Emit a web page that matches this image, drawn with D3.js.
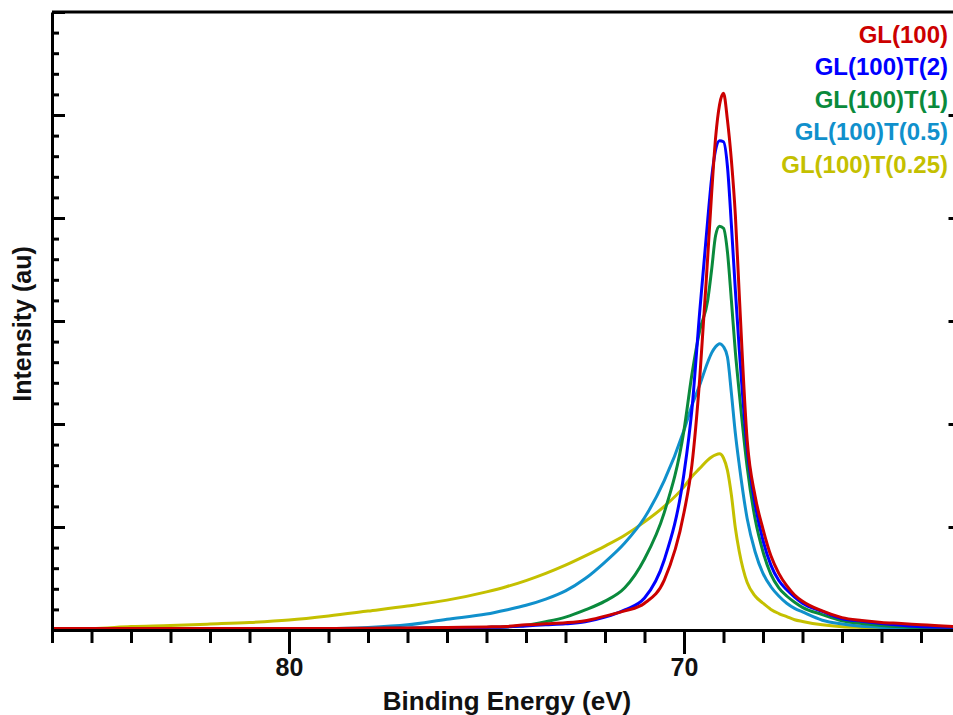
<!DOCTYPE html>
<html lang="en">
  <head>
    <meta charset="utf-8" />
    <title>Binding Energy</title>
    <script src="https://cdn.jsdelivr.net/npm/d3@7"></script>
    <style>
      body { margin: 0; background: #fff; }
      text { font-family: "Liberation Sans", Arial, sans-serif; }
    </style>
  </head>
  <body>
    <div id="plot"></div>
    <script type="text/javascript">
      // binding energy (eV), shared by all five spectra
      const energy = [86, 85, 84, 83, 82, 81, 80, 79, 78, 77, 76, 75,
        74.5, 74, 73.5, 73, 72.5, 72, 71.5, 71, 70.5, 70,
        69.8, 69.6, 69.4, 69.3, 69.2, 69.1, 69.0, 68.9, 68.8, 68.7, 68.6,
        68.4, 68.2, 68.0, 67.8, 67.6, 67.4, 67.2, 67.0,
        66.5, 66, 65.5, 65, 64.5, 64, 63];

      const gl100 = [0.015, 0.015, 0.015, 0.015, 0.015, 0.015, 0.015, 0.015, 0.018, 0.02, 0.025, 0.03,
        0.035, 0.05, 0.06, 0.07, 0.09, 0.135, 0.185, 0.26, 0.485, 1.14,
        1.6, 2.45, 3.62, 4.24, 4.78, 5.1, 5.21, 4.95, 4.56, 4.03, 3.25,
        1.84, 1.3, 0.98, 0.72, 0.55, 0.43, 0.34, 0.28,
        0.185, 0.12, 0.092, 0.073, 0.063, 0.05, 0.03];

      const gl100T2 = [0.015, 0.015, 0.015, 0.015, 0.015, 0.015, 0.015, 0.015, 0.015, 0.018, 0.02, 0.025,
        0.03, 0.04, 0.05, 0.06, 0.08, 0.125, 0.195, 0.31, 0.68, 1.52,
        2.14, 3.1, 3.98, 4.39, 4.66, 4.75, 4.74, 4.5, 3.93, 3.3, 2.72,
        1.76, 1.22, 0.87, 0.63, 0.48, 0.39, 0.32, 0.26,
        0.18, 0.11, 0.085, 0.063, 0.045, 0.032, 0.025];

      const gl100T1 = [0.015, 0.015, 0.015, 0.015, 0.015, 0.015, 0.015, 0.015, 0.015, 0.018, 0.02, 0.025,
        0.03, 0.045, 0.08, 0.125, 0.195, 0.28, 0.41, 0.69, 1.14, 1.94,
        2.48, 2.91, 3.2, 3.5, 3.83, 3.92, 3.9, 3.67, 3.2, 2.7, 2.3,
        1.58, 1.08, 0.76, 0.54, 0.41, 0.33, 0.27, 0.22,
        0.15, 0.09, 0.063, 0.044, 0.032, 0.025, 0.02];

      const gl100T05 = [0.015, 0.015, 0.015, 0.015, 0.015, 0.015, 0.015, 0.015, 0.025, 0.05, 0.105, 0.155,
        0.195, 0.24, 0.3, 0.38, 0.5, 0.66, 0.845, 1.09, 1.45, 1.94,
        2.18, 2.38, 2.6, 2.69, 2.75, 2.78, 2.75, 2.65, 2.3, 1.91, 1.6,
        1.08, 0.76, 0.55, 0.42, 0.33, 0.26, 0.21, 0.175,
        0.095, 0.058, 0.036, 0.025, 0.02, 0.018, 0.015];

      const gl100T025 = [0.012, 0.015, 0.034, 0.044, 0.058, 0.073, 0.097, 0.136, 0.184, 0.233, 0.29, 0.37,
        0.42, 0.48, 0.55, 0.63, 0.72, 0.815, 0.92, 1.05, 1.2, 1.39,
        1.49, 1.57, 1.65, 1.68, 1.7, 1.71, 1.67, 1.55, 1.31, 0.99, 0.76,
        0.46, 0.33, 0.26, 0.2, 0.16, 0.13, 0.1, 0.083,
        0.05, 0.032, 0.025, 0.02, 0.018, 0.016, 0.015];

      const seriesNames = ["GL(100)", "GL(100)T(2)", "GL(100)T(1)", "GL(100)T(0.5)", "GL(100)T(0.25)"];
      const seriesValues = [gl100, gl100T2, gl100T1, gl100T05, gl100T025];
      const seriesColors = ["#cc0000", "#0000ff", "#0a8a3c", "#1090cc", "#c4c000"];

      const majorEnergyTicks = [80, 70];

      const width = 953;
      const height = 715;
      const plotLeft = 52, plotTop = 12, plotBottom = 630, plotRight = 960.5;

      const svg = d3.select("#plot").append("svg")
        .attr("width", width)
        .attr("height", height);

      svg.append("rect").attr("width", width).attr("height", height).attr("fill", "#fff");

      const x = d3.scaleLinear().domain([86, 63]).range([plotLeft, plotRight]);
      const y = d3.scaleLinear().domain([0, 6]).range([plotBottom, plotTop]);

      svg.append("clipPath").attr("id", "clip")
        .append("rect")
        .attr("x", plotLeft).attr("y", plotTop)
        .attr("width", plotRight - plotLeft).attr("height", plotBottom - plotTop);

      const line = d3.line()
        .x(d => x(d[0]))
        .y(d => y(d[1]))
        .curve(d3.curveMonotoneX);

      // draw yellow first so red ends up on top
      const order = [4, 3, 2, 1, 0];
      svg.append("g").attr("clip-path", "url(#clip)")
        .selectAll("path")
        .data(order)
        .join("path")
        .attr("fill", "none")
        .attr("stroke", i => seriesColors[i])
        .attr("stroke-width", 3)
        .attr("stroke-linejoin", "round")
        .attr("d", i => line(energy.map((e, k) => [e, seriesValues[i][k]])));

      // bottom axis: minor ticks every eV, labelled majors
      svg.append("g")
        .attr("transform", `translate(0,${plotBottom})`)
        .call(d3.axisBottom(x).tickValues(d3.range(64, 87)).tickSize(13).tickSizeOuter(0).tickFormat(""));
      const majorX = svg.append("g")
        .attr("transform", `translate(0,${plotBottom})`)
        .call(d3.axisBottom(x).tickValues(majorEnergyTicks).tickSize(24).tickSizeOuter(0).tickPadding(4).tickFormat(d3.format("d")));
      majorX.select(".domain").remove();
      majorX.selectAll("text")
        .attr("font-size", "25px")
        .attr("font-weight", "bold")
        .attr("fill", "#111")
        .attr("font-family", "Liberation Sans, Arial, sans-serif");

      // left axis, ticks pointing into the plot
      svg.append("g")
        .attr("transform", `translate(${plotLeft},0)`)
        .call(d3.axisRight(y).tickValues(d3.range(0, 6.01, 0.2)).tickSize(7).tickSizeOuter(0).tickFormat(""));
      svg.append("g")
        .attr("transform", `translate(${plotLeft},0)`)
        .call(d3.axisRight(y).tickValues(d3.range(0, 7)).tickSize(13).tickSizeOuter(0).tickFormat(""))
        .select(".domain").remove();

      // right axis, majors only
      svg.append("g")
        .attr("transform", `translate(${plotRight},0)`)
        .call(d3.axisLeft(y).tickValues([1, 2, 3, 4, 5]).tickSize(12).tickSizeOuter(0).tickFormat(""));

      // top frame
      svg.append("line")
        .attr("x1", plotLeft).attr("x2", plotRight)
        .attr("y1", plotTop).attr("y2", plotTop)
        .attr("stroke", "#000").attr("stroke-width", 3);

      svg.selectAll(".domain").attr("stroke-width", 3).attr("stroke", "#000");
      svg.selectAll(".tick line").attr("stroke-width", 3).attr("stroke", "#000");

      svg.append("text")
        .attr("x", 507)
        .attr("y", 710)
        .attr("text-anchor", "middle")
        .attr("font-size", "26px")
        .attr("font-weight", "bold")
        .attr("fill", "#111")
        .text("Binding Energy (eV)");

      svg.append("text")
        .attr("transform", "translate(31,324) rotate(-90)")
        .attr("text-anchor", "middle")
        .attr("font-size", "25px")
        .attr("font-weight", "bold")
        .attr("fill", "#111")
        .text("Intensity (au)");

      svg.append("g")
        .selectAll("text")
        .data(seriesNames)
        .join("text")
        .attr("x", 948)
        .attr("y", (d, i) => 43 + i * 32.4)
        .attr("text-anchor", "end")
        .attr("font-size", "24px")
        .attr("font-weight", "bold")
        .attr("fill", (d, i) => seriesColors[i])
        .text(d => d);
    </script>
  </body>
</html>
